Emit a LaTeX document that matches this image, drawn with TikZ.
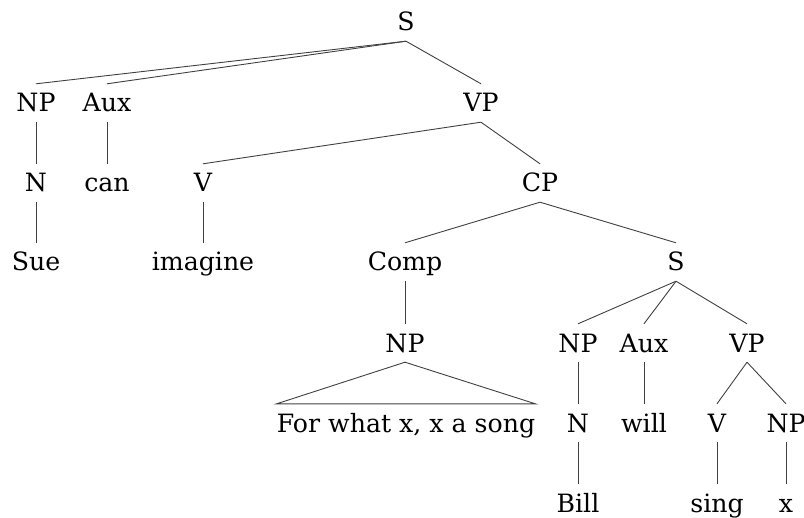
\documentclass[tikz,border=0pt]{standalone}
\usepackage{fontspec}
\setmainfont{DejaVu Serif}
\begin{document}
\begin{tikzpicture}[x=1bp,y=-1bp,
  lab/.style={anchor=base, inner xsep=0pt, inner ysep=10bp, text height=18bp, text depth=0pt,
    font=\fontsize{25.3}{28}\selectfont, text=black},
  br/.style={draw=black!75, line width=0.9bp}]
\useasboundingbox (0,0) rectangle (804,518);
% row 1
\node[lab] (s1) at (406,31) {S};
% row 2
\node[lab] (np1) at (36,112) {NP};
\node[lab] (aux1) at (107,112) {Aux};
\node[lab] (vp1) at (481,112) {VP};
% row 3
\node[lab] (n1) at (36,192) {N};
\node[lab] (can) at (107,192) {can};
\node[lab] (v1) at (203,192) {V};
\node[lab] (cp) at (540,192) {CP};
% row 4
\node[lab] (sue) at (36,271) {Sue};
\node[lab] (imagine) at (203,271) {imagine};
\node[lab] (comp) at (405,271) {Comp};
\node[lab] (s2) at (676,271) {S};
% row 5
\node[lab] (np2) at (405,352) {NP};
\node[lab] (np3) at (578,352) {NP};
\node[lab] (aux2) at (644,352) {Aux};
\node[lab] (vp2) at (747,352) {VP};
% row 6
\node[lab] (fw) at (406,432) {For what x, x a song};
\node[lab] (n2) at (578,432) {N};
\node[lab] (will) at (644,432) {will};
\node[lab] (v2) at (717,432) {V};
\node[lab] (np4) at (786,432) {NP};
% row 7
\node[lab] (bill) at (578,512) {Bill};
\node[lab] (sing) at (717,512) {sing};
\node[lab] (x) at (786,512) {x};
% branches
\draw[br] (s1.south) -- (np1.north);
\draw[br] (s1.south) -- (aux1.north);
\draw[br] (s1.south) -- (vp1.north);
\draw[br] (np1.south) -- (n1.north);
\draw[br] (aux1.south) -- (can.north);
\draw[br] (vp1.south) -- (v1.north);
\draw[br] (vp1.south) -- (cp.north);
\draw[br] (n1.south) -- (sue.north);
\draw[br] (v1.south) -- (imagine.north);
\draw[br] (cp.south) -- (comp.north);
\draw[br] (cp.south) -- (s2.north);
\draw[br] (comp.south) -- (np2.north);
\draw[br] (s2.south) -- (np3.north);
\draw[br] (s2.south) -- (aux2.north);
\draw[br] (s2.south) -- (vp2.north);
\draw[br] (np2.south) -- (fw.north west) -- (fw.north east) -- cycle;
\draw[br] (np3.south) -- (n2.north);
\draw[br] (aux2.south) -- (will.north);
\draw[br] (vp2.south) -- (v2.north);
\draw[br] (vp2.south) -- (np4.north);
\draw[br] (n2.south) -- (bill.north);
\draw[br] (v2.south) -- (sing.north);
\draw[br] (np4.south) -- (x.north);
\end{tikzpicture}
\end{document}
